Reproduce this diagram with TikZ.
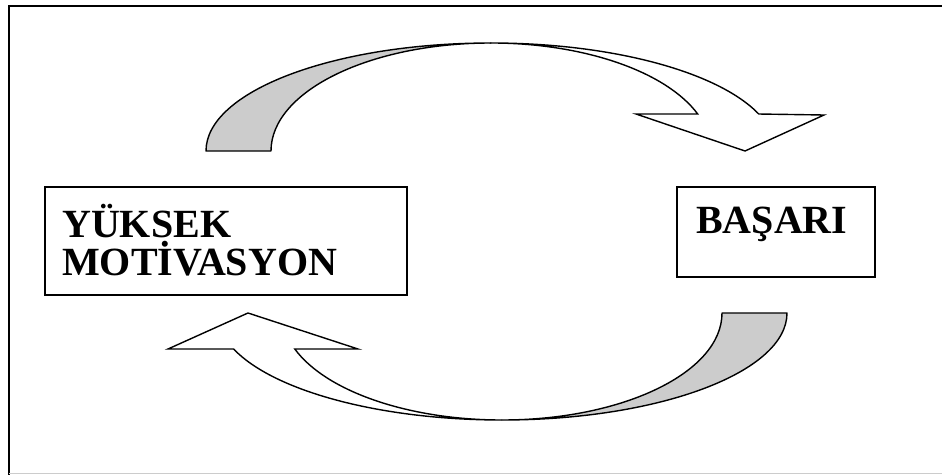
\documentclass[tikz,border=0pt]{standalone}
\usepackage{fontspec}
\setmainfont{Liberation Serif}
\begin{document}
\begin{tikzpicture}[x=1pt,y=1pt,
  frameline/.style={line width=1.8pt,black},
  boxstyle/.style={draw,line width=1.5pt,rectangle,inner sep=0pt},
  label/.style={inner sep=0pt,anchor=base west,font=\fontsize{40}{46}\selectfont\bfseries},
  backface/.style={fill=gray!40,draw=black,line width=1.4pt,line join=round},
  frontface/.style={fill=white,draw=black,line width=1.4pt,line join=miter}]
\useasboundingbox (0,0) rectangle (942,475);

% outer frame (open on the right)
\draw[frameline] (942,469) -- (9,469) -- (9,0);
\draw[gray!40,line width=1pt] (9,2) -- (942,2);

% boxes
\node[boxstyle,minimum width=362pt,minimum height=108pt] (mot) at (226,234) {};
\node[boxstyle,minimum width=198pt,minimum height=90pt] (bas) at (776,243) {};
\node[label] (t1) at (62,238) {YÜKSEK};
\node[label] (t2) at (62,200) {MOTİVASYON};
\node[label] (t3) at (696,242) {BAŞARI};

% upper curved arrow: shaded back face, then the front with the head
\draw[backface] (206,324) arc[start angle=180,end angle=90,x radius=285,y radius=108]
  arc[start angle=90,end angle=180,x radius=220,y radius=108] -- cycle;
\draw[frontface] (491,432) arc[start angle=90,end angle=20.03,x radius=285,y radius=108]
  -- (824,360) -- (745,324) -- (636,361) -- (697.7,361)
  arc[start angle=20.03,end angle=90,x radius=220,y radius=108] -- cycle;

% lower curved arrow
\draw[backface] (787,162) arc[start angle=0,end angle=-90,x radius=285,y radius=107]
  arc[start angle=-90,end angle=0,x radius=220,y radius=107] -- cycle;
\draw[frontface] (502,55) arc[start angle=270,end angle=199.66,x radius=285,y radius=107]
  -- (168,126) -- (248,162) -- (358,126) -- (294.8,126)
  arc[start angle=199.66,end angle=270,x radius=220,y radius=107] -- cycle;
\end{tikzpicture}
\end{document}
